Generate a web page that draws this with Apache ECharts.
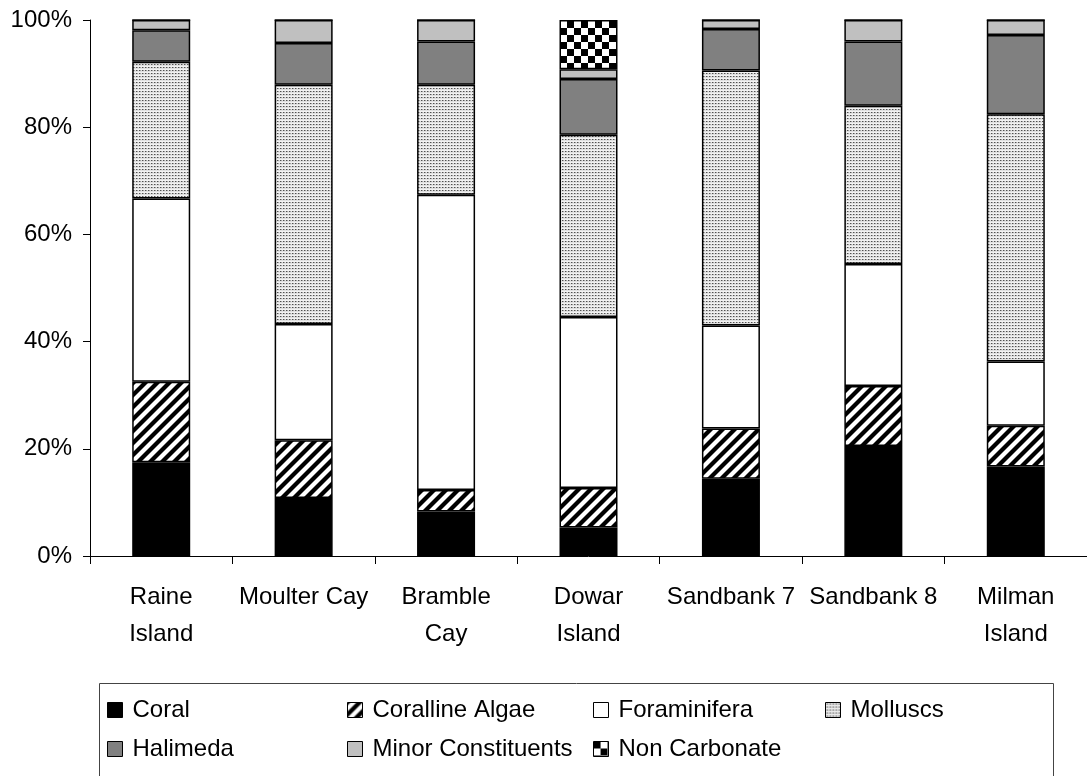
<!DOCTYPE html>
<html>
<head>
<meta charset="utf-8">
<script src="https://cdn.jsdelivr.net/npm/echarts@6/dist/echarts.min.js"></script>
<style>
html,body{margin:0;padding:0;background:#fff;}
#chart{width:1087px;height:776px;}
</style>
</head>
<body>
<div id="chart"></div>
<script>
// ---- Data ----
const categories = ['Raine\nIsland', 'Moulter Cay', 'Bramble\nCay', 'Dowar\nIsland', 'Sandbank 7', 'Sandbank 8', 'Milman\nIsland'];
const coral         = [17.5, 10.8,  8.3,  5.3, 14.4, 20.5, 16.7];
const corallineAlgae= [15.0, 10.8,  4.0,  7.4,  9.4, 11.2,  7.6];
const foraminifera  = [34.2, 21.7, 55.1, 31.9, 19.2, 22.8, 12.0];
const molluscs      = [25.5, 44.6, 20.5, 34.0, 47.6, 29.5, 46.1];
const halimeda      = [ 5.9,  7.8,  8.1, 10.4,  7.7, 12.0, 14.8];
const minorConst    = [ 1.9,  4.3,  4.0,  1.8,  1.7,  4.0,  2.8];
const nonCarbonate  = [ 0,    0,    0,    9.2,  0,    0,    0  ];
const yTicks = [0, 20, 40, 60, 80, 100];

// ---- Patterns ----
function stripes(){
  const c = document.createElement('canvas'); c.width = 12; c.height = 12;
  const g = c.getContext('2d');
  g.fillStyle = '#fff'; g.fillRect(0,0,12,12);
  g.strokeStyle = '#000'; g.lineWidth = 4.2;
  [0,12,24].forEach(k => { g.beginPath(); g.moveTo(k+2, -2); g.lineTo(k-14, 14); g.stroke(); });
  return c;
}
function dots(){
  const c = document.createElement('canvas'); c.width = 3; c.height = 3;
  const g = c.getContext('2d');
  g.fillStyle = '#e0e0e0'; g.fillRect(0,0,3,3);
  g.fillStyle = '#505050'; g.fillRect(1,1,1,1);
  g.fillStyle = '#a0a0a0'; g.fillRect(2,1,1,1);
  g.fillStyle = '#f2f2f2'; g.fillRect(0,0,3,1);
  return c;
}
function checker(){
  const c = document.createElement('canvas'); c.width = 14; c.height = 14;
  const g = c.getContext('2d');
  g.fillStyle = '#fff'; g.fillRect(0,0,14,14);
  g.fillStyle = '#000'; g.fillRect(0,0,7,7); g.fillRect(7,7,7,7);
  return c;
}

const FONT = "'Liberation Sans', Arial, sans-serif";
const seriesDefs = [
  ['Coral', coral, '#000000'],
  ['Coralline Algae', corallineAlgae, {image: stripes(), repeat: 'repeat'}],
  ['Foraminifera', foraminifera, '#ffffff'],
  ['Molluscs', molluscs, {image: dots(), repeat: 'repeat'}],
  ['Halimeda', halimeda, '#808080'],
  ['Minor Constituents', minorConst, '#c0c0c0'],
  ['Non Carbonate', nonCarbonate, {image: checker(), repeat: 'repeat'}]
];

const legendPos = [
  [107, 698], [347, 698], [593, 698], [825, 698],
  [107, 737], [347, 737], [593, 737]
];

const chart = echarts.init(document.getElementById('chart'), null, {renderer: 'canvas'});
chart.setOption({
  animation: false,
  backgroundColor: '#fff',
  textStyle: {fontFamily: FONT},
  grid: {left: 90, top: 20, width: 1001, height: 536, containLabel: false},
  xAxis: {
    type: 'category',
    data: categories,
    axisLine: {lineStyle: {color: '#000', width: 1}},
    axisTick: {show: true, length: 8, lineStyle: {color: '#000'}},
    axisLabel: {interval: 0, fontSize: 24, lineHeight: 37, color: '#000', margin: 23, fontFamily: FONT}
  },
  yAxis: {
    type: 'value', min: 0, max: 100, interval: 20,
    axisLine: {show: true, lineStyle: {color: '#000', width: 1}},
    axisTick: {show: true, length: 7, lineStyle: {color: '#000'}},
    splitLine: {show: false},
    axisLabel: {fontSize: 24, color: '#000', margin: 18, fontFamily: FONT, formatter: '{value}%'}
  },
  legend: seriesDefs.map((s, i) => ({
    data: [s[0]],
    left: legendPos[i][0], top: legendPos[i][1],
    padding: 0, itemWidth: 15, itemHeight: 15,
    icon: 'rect',
    itemStyle: {borderWidth: 1},
    textStyle: {fontSize: 24, color: '#000', fontFamily: FONT, padding: [0,0,0,5]},
    selectedMode: false
  })),
  graphic: [{
    type: 'rect', silent: true,
    shape: {x: 99.5, y: 683.5, width: 954, height: 120},
    style: {fill: 'none', stroke: '#444', lineWidth: 1}
  }],
  series: seriesDefs.map(s => ({
    name: s[0], type: 'bar', stack: 'total', barWidth: 58,
    data: s[1],
    itemStyle: {color: s[2], borderColor: '#000', borderWidth: 1.5},
    emphasis: {disabled: true}
  }))
});
</script>
</body>
</html>
